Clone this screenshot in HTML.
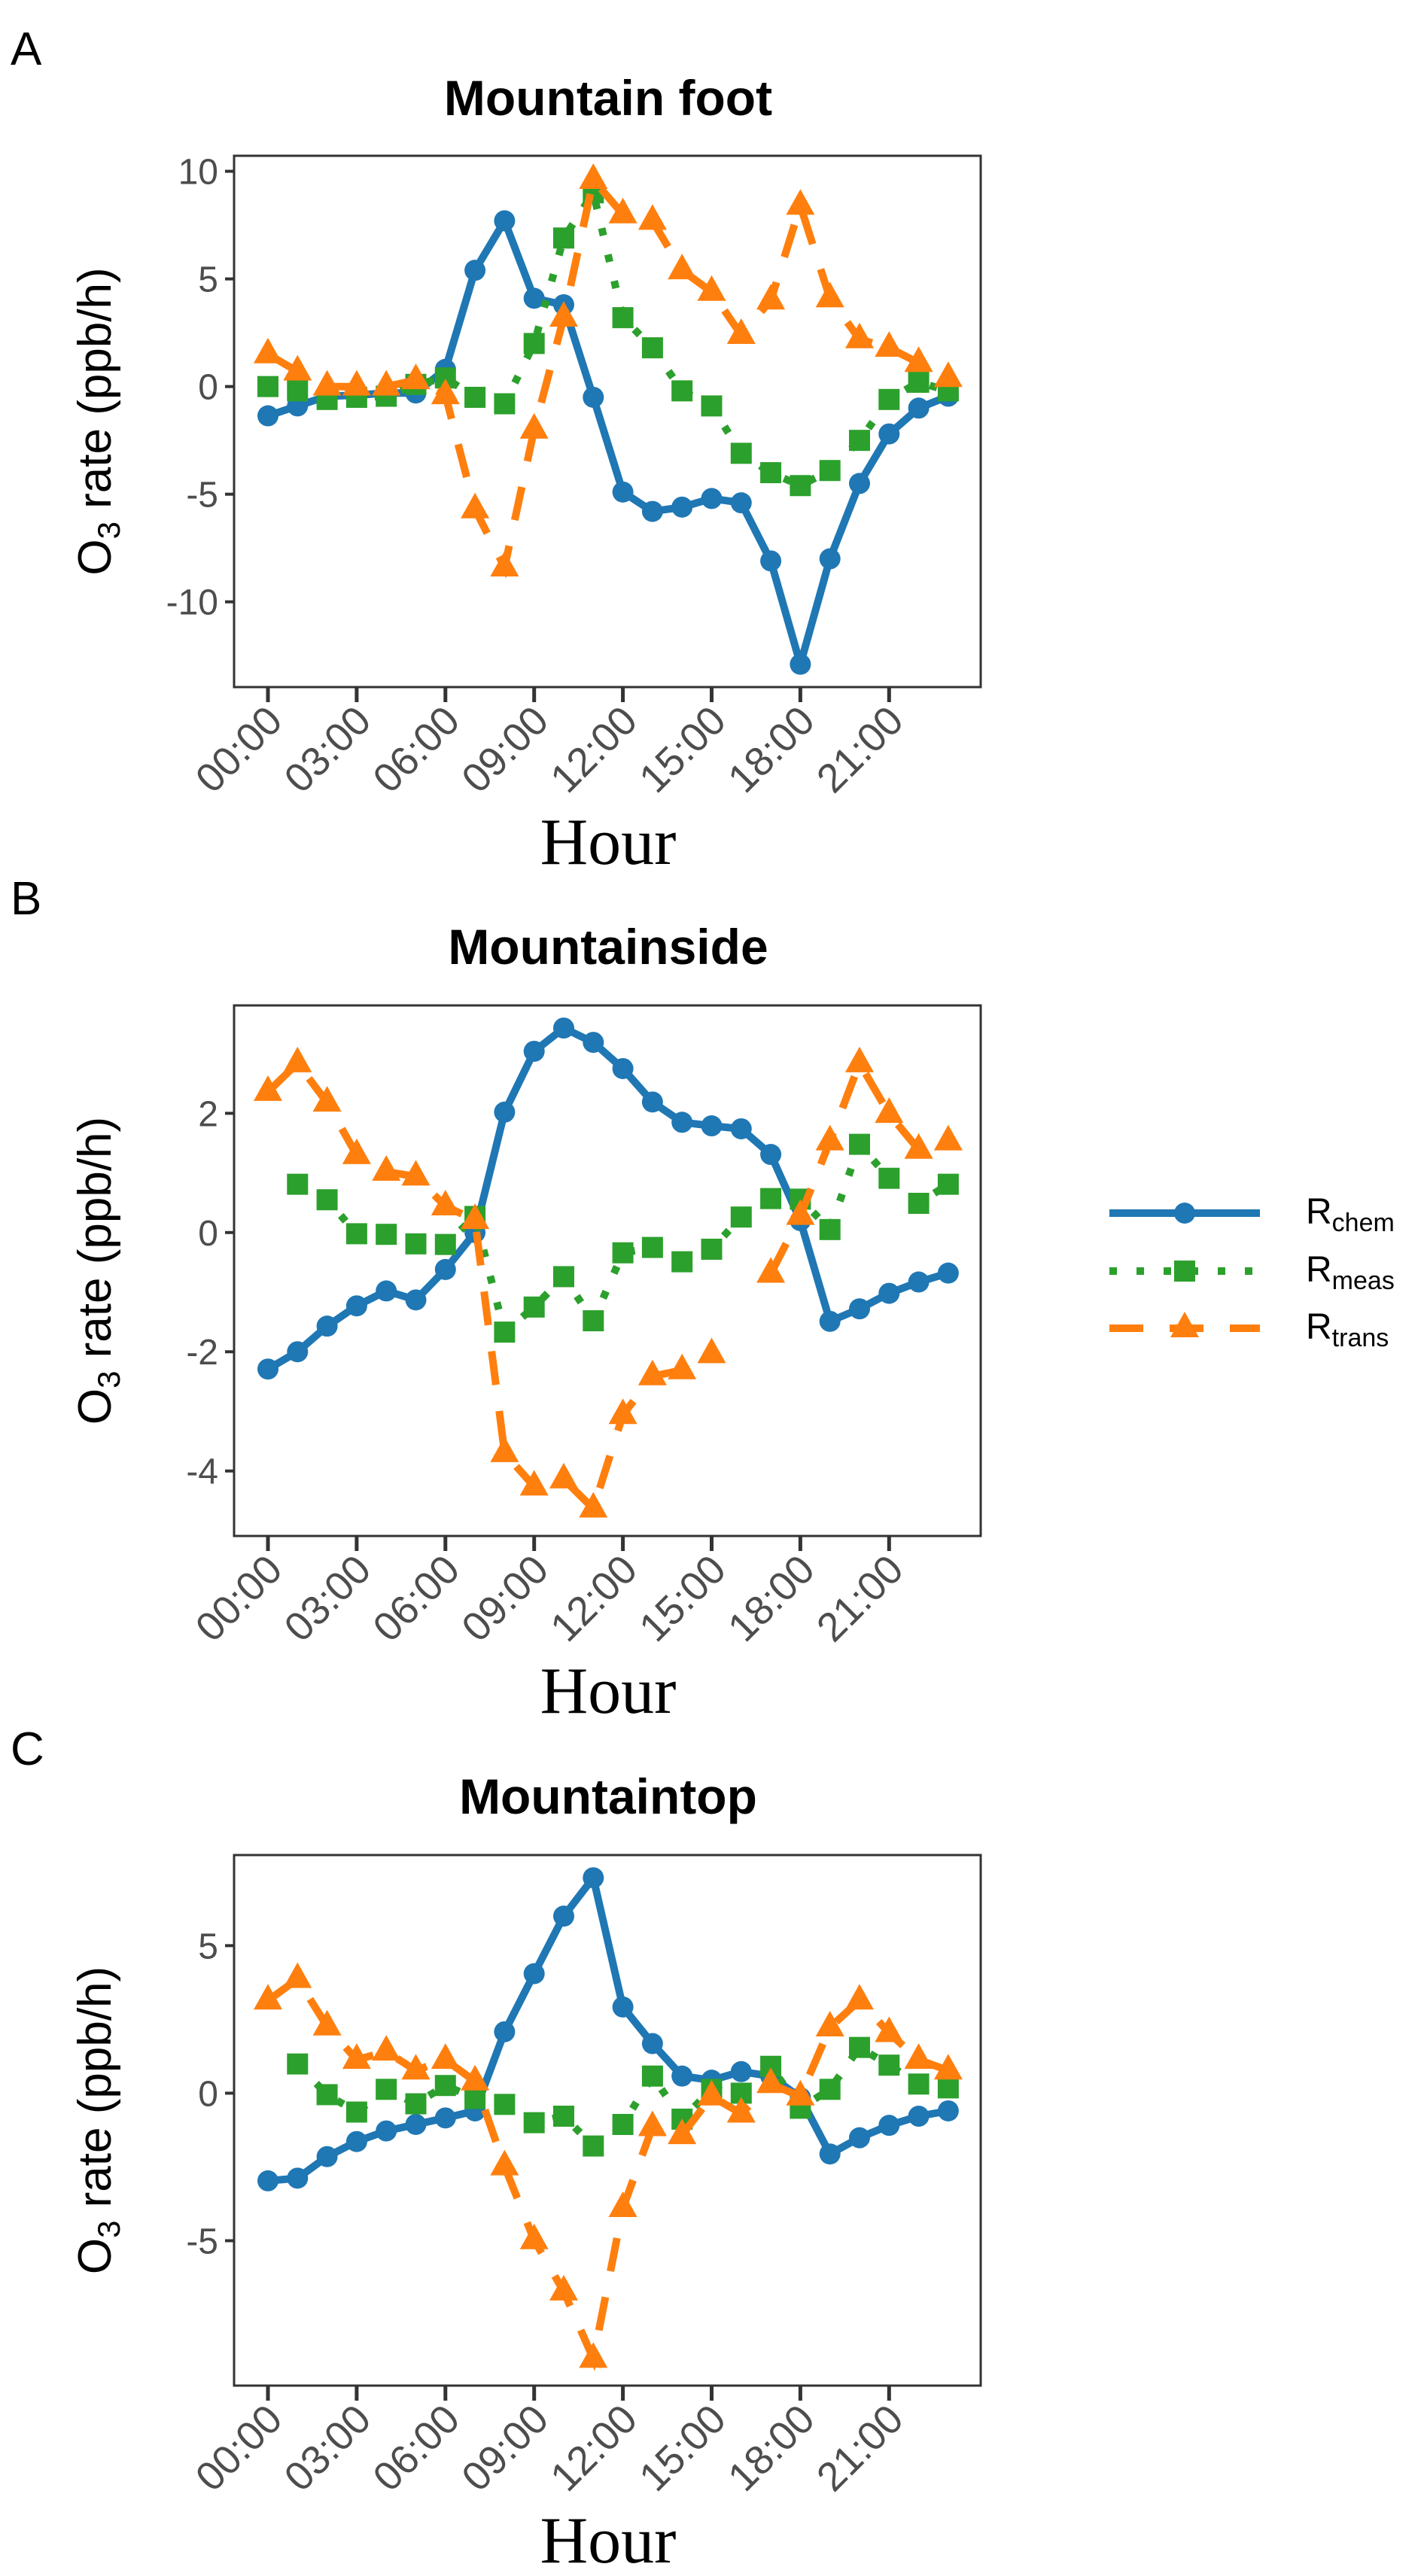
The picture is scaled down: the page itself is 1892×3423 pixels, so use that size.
<!DOCTYPE html>
<html><head><meta charset="utf-8">
<style>
html,body{margin:0;padding:0;background:#fff;}
svg{display:block;}
</style></head>
<body>
<svg id="fig" width="1892" height="3423" viewBox="0 0 1892 3423" xmlns="http://www.w3.org/2000/svg"></svg>
<script>
const hours = [0,1,2,3,4,5,6,7,8,9,10,11,12,13,14,15,16,17,18,19,20,21,22,23];
const xTickLabels = ["00:00","03:00","06:00","09:00","12:00","15:00","18:00","21:00"];
const xTickHours = [0,3,6,9,12,15,18,21];

const footChem = [-1.36,-0.9,-0.45,-0.4,-0.3,-0.3,0.8,5.4,7.7,4.1,3.8,-0.5,-4.9,-5.8,-5.6,-5.2,-5.4,-8.1,-12.9,-8.0,-4.5,-2.2,-1.0,-0.45];
const footMeas = [0,-0.2,-0.6,-0.5,-0.45,0.1,0.4,-0.5,-0.8,2.0,6.9,9.0,3.2,1.8,-0.2,-0.9,-3.1,-4.0,-4.6,-3.9,-2.5,-0.6,0.2,-0.2];
const footTrans = [1.5,0.7,0,0,0,0.3,-0.4,-5.7,-8.4,-2.0,3.2,9.6,8.0,7.7,5.4,4.4,2.4,4.0,8.4,4.1,2.2,1.8,1.1,0.4];
const footTicks = [10,5,0,-5,-10];

const sideChem = [-2.29,-2.0,-1.57,-1.23,-0.98,-1.13,-0.62,0,2.02,3.04,3.43,3.19,2.75,2.19,1.85,1.79,1.74,1.31,0.2,-1.49,-1.28,-1.02,-0.83,-0.68];
const sideMeas = [null,0.81,0.55,-0.02,-0.03,-0.19,-0.2,0.27,-1.67,-1.25,-0.74,-1.48,-0.34,-0.25,-0.49,-0.28,0.26,0.57,0.56,0.05,1.48,0.91,0.49,0.81];
const sideTrans = [2.36,2.84,2.18,1.3,1.02,0.94,0.44,0.21,-3.7,-4.26,-4.14,-4.63,-3.06,-2.41,-2.31,-2.04,null,-0.69,0.28,1.53,2.84,1.99,1.39,1.53];
const sideTicks = [2,0,-2,-4];

const topChem = [-2.97,-2.88,-2.15,-1.64,-1.28,-1.06,-0.84,-0.6,2.08,4.05,6.0,7.3,2.92,1.68,0.58,0.44,0.73,0.58,-0.15,-2.06,-1.51,-1.09,-0.78,-0.6];
const topMeas = [null,0.99,-0.05,-0.64,0.13,-0.36,0.26,-0.18,-0.38,-1.0,-0.78,-1.79,-1.06,0.58,-0.88,0.13,0,0.91,-0.51,0.13,1.55,0.95,0.31,0.18];
const topTrans = [3.14,3.87,2.26,1.13,1.41,0.77,1.13,0.4,-2.48,-4.98,-6.72,-9.0,-3.89,-1.15,-1.42,-0.11,-0.69,0.31,-0.11,2.23,3.14,2.04,1.13,0.77];
const topTicks = [5,0,-5];

const NS = "http://www.w3.org/2000/svg";
const svg = document.getElementById('fig');
const C_CHEM = "#1f77b4", C_MEAS = "#2ca02c", C_TRANS = "#ff7f0e";
const PL = 311, PR = 1303;
function xs(h){ return 356 + h * 39.3; }

function mk(tag, attrs, parent){
  const e = document.createElementNS(NS, tag);
  for (const k in attrs) e.setAttribute(k, attrs[k]);
  (parent || svg).appendChild(e);
  return e;
}

function pathFrom(vals, ys){
  let d = "", pen = false;
  vals.forEach((v,i)=>{
    if (v === null){ pen = false; return; }
    d += (pen ? "L" : "M") + xs(hours[i]).toFixed(1) + "," + ys(v).toFixed(1);
    pen = true;
  });
  return d;
}

function panel(cfg){
  const g = mk('g', {});
  
  
  const ys = v => cfg.top + (cfg.ymax - v) / (cfg.ymax - cfg.ymin) * (cfg.bot - cfg.top);

  const letter = mk('text', {x:14, y:cfg.letterY, 'font-family':'Liberation Sans, sans-serif', 'font-size':62, fill:'#000'}, g);
  letter.textContent = cfg.letter;
  
  

  const title = mk('text', {x:808, y:cfg.titleY, 'text-anchor':'middle', 'font-family':'Liberation Sans, sans-serif', 'font-weight':'bold', 'font-size':66, fill:'#000'}, g);
  title.textContent = cfg.title;
  
  

  const frame = mk('rect', {x:PL, y:cfg.top, width:PR-PL, height:cfg.bot-cfg.top, fill:'#fff', stroke:'#333', 'stroke-width':3}, g);
  
  

  cfg.ticks.forEach(t=>{
    const y = ys(t);
    const tk = mk('line', {x1:299, x2:PL, y1:y, y2:y, stroke:'#333', 'stroke-width':4}, g);
    
    
    const tl = mk('text', {x:290, y:y+17, 'text-anchor':'end', 'font-family':'Liberation Sans, sans-serif', 'font-size':48, fill:'#4d4d4d'}, g);
    tl.textContent = String(t);
    
    
  });

  xTickHours.forEach((h,i)=>{
    const x = xs(h);
    const tk = mk('line', {x1:x, x2:x, y1:cfg.bot, y2:cfg.bot+20, stroke:'#333', 'stroke-width':5}, g);
    
    
    const tl = mk('text', {x:0, y:0, 'text-anchor':'end', 'font-family':'Liberation Sans, sans-serif', 'font-size':54, fill:'#4d4d4d', transform:'translate(' + (x+22) + ',' + (cfg.bot+48) + ') rotate(-45)'}, g);
    tl.textContent = xTickLabels[i];
    
    
  });

  const yt = mk('text', {x:0, y:0, 'text-anchor':'middle', 'font-family':'Liberation Sans, sans-serif', 'font-size':62, fill:'#000', transform:'translate(147,' + ((cfg.top+cfg.bot)/2) + ') rotate(-90)'}, g);
  yt.innerHTML = 'O<tspan font-size="42" dy="12">3</tspan><tspan dy="-12"> rate (ppb/h)</tspan>';
  
  

  const xt = mk('text', {x:808, y:cfg.bot+235, 'text-anchor':'middle', 'font-family':'Liberation Serif, serif', 'font-size':88, fill:'#000'}, g);
  xt.textContent = 'Hour';
  
  

  // R_chem
  const lc = mk('path', {d:pathFrom(cfg.chem, ys), fill:'none', stroke:C_CHEM, 'stroke-width':10, 'stroke-linejoin':'round'}, g);
  
  
  cfg.chem.forEach((v,i)=>{
    if (v === null) return;
    const c = mk('circle', {cx:xs(hours[i]), cy:ys(v), r:14, fill:C_CHEM}, g);
    
    
  });
  // R_meas
  const lm = mk('path', {d:pathFrom(cfg.meas, ys), fill:'none', stroke:C_MEAS, 'stroke-width':10, 'stroke-dasharray':'10 26'}, g);
  
  
  cfg.meas.forEach((v,i)=>{
    if (v === null) return;
    const s = mk('rect', {x:xs(hours[i])-14, y:ys(v)-14, width:28, height:28, fill:C_MEAS}, g);
    
    
  });
  // R_trans
  const lt = mk('path', {d:pathFrom(cfg.trans, ys), fill:'none', stroke:C_TRANS, 'stroke-width':10, 'stroke-dasharray':'45 35'}, g);
  
  
  cfg.trans.forEach((v,i)=>{
    if (v === null) return;
    const x = xs(hours[i]), y = ys(v);
    const p = mk('polygon', {points:(x)+','+(y-22)+' '+(x-19)+','+(y+12)+' '+(x+19)+','+(y+12), fill:C_TRANS}, g);
    
    
  });
}

panel({name:'mountain-foot', letter:'A', letterY:86, title:'Mountain foot', titleY:153, top:207, bot:913, ymax:10.72, ymin:-13.96, ticks:footTicks, chem:footChem, meas:footMeas, trans:footTrans});
panel({name:'mountainside', letter:'B', letterY:1215, title:'Mountainside', titleY:1281, top:1336, bot:2041, ymax:3.81, ymin:-5.09, ticks:sideTicks, chem:sideChem, meas:sideMeas, trans:sideTrans});
panel({name:'mountaintop', letter:'C', letterY:2345, title:'Mountaintop', titleY:2410, top:2465, bot:3170, ymax:8.07, ymin:-9.91, ticks:topTicks, chem:topChem, meas:topMeas, trans:topTrans});

// legend
const lg = mk('g', {});


const legendRows = [
  {y:1612, color:C_CHEM, dash:'', sub:'chem', shape:'circle'},
  {y:1689, color:C_MEAS, dash:'10 26', sub:'meas', shape:'square'},
  {y:1765, color:C_TRANS, dash:'45 35', sub:'trans', shape:'triangle'}
];
legendRows.forEach(r=>{
  const ln = mk('line', {x1:1474, x2:1674, y1:r.y, y2:r.y, stroke:r.color, 'stroke-width':10, 'stroke-dasharray':r.dash || 'none'}, lg);
  
  
  let m;
  if (r.shape === 'circle') m = mk('circle', {cx:1574, cy:r.y, r:14, fill:r.color}, lg);
  else if (r.shape === 'square') m = mk('rect', {x:1560, y:r.y-14, width:28, height:28, fill:r.color}, lg);
  else m = mk('polygon', {points:'1574,'+(r.y-22)+' 1555,'+(r.y+12)+' 1593,'+(r.y+12), fill:r.color}, lg);
  
  
  const t = mk('text', {x:1735, y:r.y+14, 'font-family':'Liberation Sans, sans-serif', 'font-size':48, fill:'#000'}, lg);
  t.innerHTML = 'R<tspan font-size="34" dy="10">' + r.sub + '</tspan>';
  
  
});
</script>
</body></html>
